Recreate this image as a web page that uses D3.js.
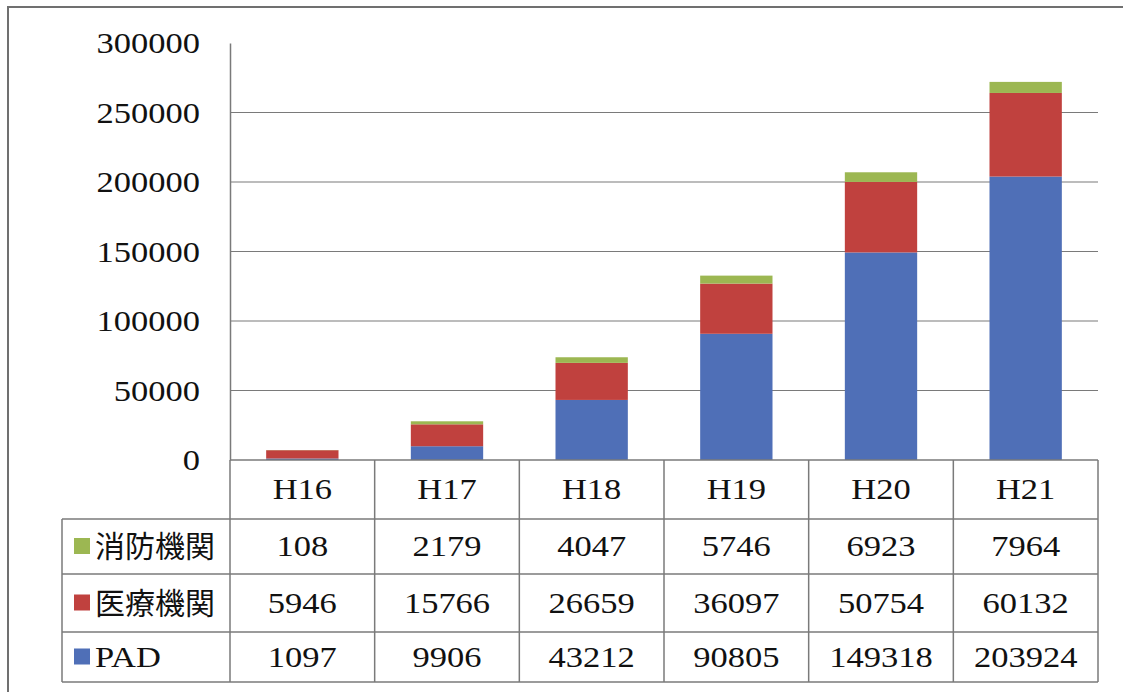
<!DOCTYPE html>
<html>
<head>
<meta charset="utf-8">
<script src="https://cdn.jsdelivr.net/npm/d3@7"></script>
<style>
  html, body { margin: 0; padding: 0; background: #fff; }
  svg { display: block; }
  .num { font-family: "Liberation Serif", "DejaVu Serif", "Times New Roman", Times, serif; }
  .cjk { font-family: "Noto Sans CJK JP", "Noto Sans CJK SC", sans-serif; }
</style>
</head>
<body>
<svg id="chart" width="1123" height="692"></svg>
<script>
// Fiscal years (Heisei era)
const categories = ["H16", "H17", "H18", "H19", "H20", "H21"];

// Series values per year
const fireDept = [108, 2179, 4047, 5746, 6923, 7964];           // 消防機関
const medical  = [5946, 15766, 26659, 36097, 50754, 60132];     // 医療機関
const pad      = [1097, 9906, 43212, 90805, 149318, 203924];    // PAD

// Y axis tick values
const yTicks = [0, 50000, 100000, 150000, 200000, 250000, 300000];

// Series: stacking order is bottom-up; table rows are listed top-down
const seriesNames = ["PAD", "医療機関", "消防機関"];
const seriesValues = [pad, medical, fireDept];
const seriesColors = ["#4f6fb7", "#c0413e", "#9cb752"];

const svg = d3.select("#chart");
const lineColor = "#7a7a7a";
const numSize = 30;
const stretch = 1.15;

// Places a widened serif label; anchor is "start", "middle" or "end"
function serifText(parent, tx, ty, str, anchor) {
  return parent.append("text")
    .attr("class", "num")
    .attr("transform", `translate(${tx},${ty}) scale(${stretch},1)`)
    .attr("dy", "0.33em")
    .attr("text-anchor", anchor)
    .attr("font-size", numSize)
    .attr("fill", "#111")
    .text(str);
}

// Outer frame
svg.append("rect")
  .attr("x", 8).attr("y", 7)
  .attr("width", 1140).attr("height", 700)
  .attr("fill", "none").attr("stroke", "#707070").attr("stroke-width", 2);

// Scales
const x = d3.scaleBand().domain(categories).range([230, 1098]).paddingInner(0).paddingOuter(0);
const y = d3.scaleLinear().domain([0, 300000]).range([460, 43]);

// Gridlines
svg.append("g")
  .selectAll("line")
  .data(yTicks.filter(t => t > 0 && t < 300000))
  .join("line")
  .attr("x1", 230).attr("x2", 1098)
  .attr("y1", d => y(d)).attr("y2", d => y(d))
  .attr("stroke", lineColor).attr("stroke-width", 1.2);

// Y axis: domain line from the axis generator, labels widened to match the serif face
const yAxis = svg.append("g")
  .attr("transform", "translate(230,0)")
  .call(d3.axisLeft(y).tickValues(yTicks).tickSize(0).tickPadding(30).tickFormat(d3.format("d")));
yAxis.attr("font-family", null).attr("font-size", null);
yAxis.select(".domain").attr("stroke", lineColor).attr("stroke-width", 1.5);
yAxis.selectAll(".tick text").remove();
yAxis.selectAll(".tick").each(function (d) {
  serifText(d3.select(this), -30, 0, d3.format("d")(d), "end");
});

// Stacked bars
const rows = categories.map((c, i) => {
  const r = { cat: c };
  seriesNames.forEach((s, k) => { r[s] = seriesValues[k][i]; });
  return r;
});
const stacked = d3.stack().keys(seriesNames)(rows);
const barW = x.bandwidth() * 0.5;

svg.append("g")
  .selectAll("g")
  .data(stacked)
  .join("g")
  .attr("fill", (d, i) => seriesColors[i])
  .selectAll("rect")
  .data(d => d)
  .join("rect")
  .attr("x", d => x(d.data.cat) + (x.bandwidth() - barW) / 2)
  .attr("width", barW)
  .attr("y", d => y(d[1]))
  .attr("height", d => y(d[0]) - y(d[1]));

// Data table below the plot
const tableTop = 460;
const rowEdges = [460, 519, 574, 632, 682];
const legendLeft = 62;
const table = svg.append("g");

// horizontal rules
rowEdges.forEach((ry, i) => {
  table.append("line")
    .attr("x1", i === 0 ? 230 : legendLeft).attr("x2", 1098)
    .attr("y1", ry).attr("y2", ry)
    .attr("stroke", lineColor).attr("stroke-width", 1.5);
});
// vertical rules
const colEdges = categories.map(c => x(c)).concat([x.range()[1]]);
colEdges.forEach(cx => {
  table.append("line")
    .attr("x1", cx).attr("x2", cx)
    .attr("y1", tableTop).attr("y2", rowEdges[4])
    .attr("stroke", lineColor).attr("stroke-width", 1.5);
});
table.append("line")
  .attr("x1", legendLeft).attr("x2", legendLeft)
  .attr("y1", rowEdges[1]).attr("y2", rowEdges[4])
  .attr("stroke", lineColor).attr("stroke-width", 1.5);

// header row
categories.forEach(c => {
  serifText(table, x(c) + x.bandwidth() / 2, (rowEdges[0] + rowEdges[1]) / 2, c, "middle");
});

// value rows: top row is the last stacked series
const tableOrder = [2, 1, 0];
tableOrder.forEach((k, r) => {
  const cy = (rowEdges[r + 1] + rowEdges[r + 2]) / 2;
  // legend swatch and label
  table.append("rect")
    .attr("x", 74).attr("y", cy - 8.5)
    .attr("width", 16).attr("height", 16)
    .attr("fill", seriesColors[k]);
  if (k === 0) {
    serifText(table, 95, cy, seriesNames[k], "start");
  } else {
    table.append("text")
      .attr("class", "cjk")
      .attr("x", 95).attr("y", cy)
      .attr("dy", "0.36em")
      .attr("font-size", 30)
      .attr("fill", "#111")
      .text(seriesNames[k]);
  }
  // values
  seriesValues[k].forEach((v, i) => {
    serifText(table, x(categories[i]) + x.bandwidth() / 2, cy, String(v), "middle");
  });
});
</script>
</body>
</html>
